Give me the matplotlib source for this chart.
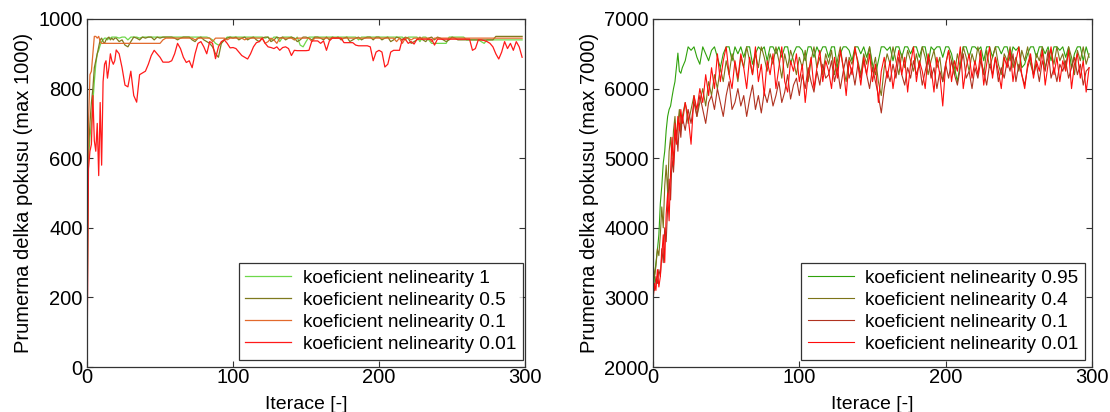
import numpy as np
import matplotlib
matplotlib.use("Agg")
import matplotlib.pyplot as plt

# iterations: every step for the start, then every second step
iters = list(range(0, 20)) + list(range(20, 300, 2))

# left panel (max 1000)
left_labels = ["koeficient nelinearity 1", "koeficient nelinearity 0.5",
               "koeficient nelinearity 0.1", "koeficient nelinearity 0.01"]
left_k1 = [130, 600, 660, 700, 760, 820, 870, 900, 910, 925, 935, 940, 945, 945, 940, 945, 945, 948, 948, 948,
           948, 945, 948, 948, 940, 948, 948, 948, 945, 948,
           948, 948, 948, 948, 948, 948, 948, 948, 948, 948,
           948, 948, 948, 948, 948, 948, 948, 948, 948, 948,
           948, 948, 945, 940, 930, 925, 930, 940, 948, 948,
           948, 948, 948, 948, 948, 948, 948, 948, 948, 948,
           948, 945, 948, 940, 948, 948, 935, 948, 948, 948,
           948, 940, 948, 925, 920, 935, 948, 948, 948, 948,
           948, 948, 948, 948, 948, 948, 948, 948, 948, 948,
           948, 948, 948, 940, 948, 948, 948, 948, 948, 948,
           948, 948, 948, 948, 948, 948, 948, 948, 948, 940,
           948, 948, 948, 948, 935, 948, 948, 940, 930, 930,
           930, 930, 930, 930, 948, 948, 948, 948, 948, 948,
           940, 940, 940, 940, 940, 935, 930, 940, 940, 940,
           940, 940, 940, 940, 940, 940, 940, 940, 940, 940]
left_k05 = [440, 620, 700, 760, 800, 860, 880, 900, 920, 940, 945, 935, 930, 940, 945, 948, 940, 945, 940, 945,
            945, 935, 940, 925, 920, 935, 948, 945, 940, 948,
            945, 948, 948, 940, 948, 945, 948, 948, 948, 948,
            945, 940, 945, 948, 948, 948, 940, 935, 945, 948,
            940, 935, 930, 920, 900, 890, 930, 940, 945, 948,
            945, 948, 940, 945, 948, 940, 945, 948, 940, 935,
            945, 948, 948, 935, 940, 948, 945, 948, 940, 945,
            948, 945, 935, 940, 948, 948, 945, 940, 948, 948,
            945, 940, 948, 940, 948, 945, 948, 940, 945, 948,
            935, 940, 945, 948, 940, 945, 948, 948, 940, 948,
            948, 940, 945, 948, 935, 940, 948, 945, 940, 948,
            945, 930, 935, 940, 948, 940, 935, 945, 948, 940,
            948, 945, 940, 935, 940, 948, 945, 940, 940, 940,
            940, 940, 940, 940, 940, 940, 940, 940, 940, 940,
            950, 950, 950, 950, 950, 950, 950, 950, 950, 950]
left_k01 = [280, 700, 840, 850, 900, 950, 950, 945, 950, 935, 930, 930, 930, 930, 930, 930, 930, 930, 930, 930,
            930, 930, 930, 930, 930, 930, 930, 930, 930, 930,
            930, 930, 930, 930, 930, 930, 940, 945, 945, 945,
            945, 945, 945, 945, 945, 945, 945, 940, 945, 945,
            945, 945, 945, 935, 945, 945, 945, 945, 940, 945,
            945, 945, 945, 945, 940, 945, 945, 945, 945, 945,
            945, 930, 935, 945, 940, 930, 945, 945, 945, 945,
            945, 940, 945, 945, 945, 945, 945, 935, 945, 945,
            945, 945, 945, 945, 945, 945, 945, 945, 945, 945,
            945, 945, 945, 945, 945, 945, 945, 945, 945, 945,
            945, 945, 945, 945, 945, 945, 935, 945, 930, 945,
            945, 940, 945, 945, 945, 945, 945, 945, 935, 945,
            945, 945, 945, 945, 945, 945, 945, 945, 945, 945,
            945, 945, 945, 945, 945, 945, 945, 945, 945, 945,
            945, 945, 945, 945, 945, 945, 945, 945, 945, 945]
left_k001 = [0, 570, 620, 640, 780, 650, 620, 700, 550, 760, 580, 820, 870, 880, 830, 860, 900, 880, 870, 880,
             911, 900, 860, 810, 805, 850, 780, 761, 840, 845,
             850, 870, 895, 910, 900, 890, 876, 876, 876, 880,
             900, 930, 915, 890, 875, 880, 860, 900, 930, 935,
             920, 900, 935, 930, 886, 920, 935, 940, 930, 917,
             918, 915, 905, 895, 890, 885, 900, 920, 932, 935,
             945, 930, 920, 918, 915, 920, 910, 918, 920, 915,
             895, 910, 909, 909, 909, 909, 910, 937, 937, 937,
             930, 937, 910, 937, 945, 945, 945, 945, 932, 932,
             932, 932, 925, 923, 923, 923, 923, 920, 880, 905,
             910, 905, 862, 870, 905, 910, 910, 910, 942, 942,
             930, 935, 928, 942, 942, 942, 942, 942, 942, 925,
             942, 942, 942, 942, 942, 942, 942, 942, 942, 942,
             942, 942, 910, 915, 940, 940, 938, 935, 930, 920,
             900, 885, 905, 935, 915, 930, 910, 935, 920, 890]

# right panel (max 7000)
right_labels = ["koeficient nelinearity 0.95", "koeficient nelinearity 0.4",
                "koeficient nelinearity 0.1", "koeficient nelinearity 0.01"]
right_k095 = [2950, 3300, 3500, 3680, 3900, 4350, 4600, 4930, 5100, 5400, 5600, 5700, 5750, 5880, 6000, 6100, 6300, 6510, 6250, 6220,
              6300, 6400, 6600, 6550, 6600, 6450, 6350, 6600, 6500, 6400,
              6550, 6600, 6450, 6300, 6500, 6600, 6600, 6400, 6600, 6500,
              6600, 6450, 6600, 6600, 6350, 6500, 6600, 6550, 6600, 6400,
              6600, 6600, 6500, 6600, 6450, 6600, 6600, 6350, 6500, 6600,
              6600, 6550, 6400, 6600, 6600, 6450, 6600, 6500, 6600, 6600,
              6450, 6600, 6600, 6300, 6500, 6600, 6600, 6550, 6400, 6600,
              6600, 6500, 6600, 6450, 6600, 6350, 6200, 6400, 6600, 6600,
              6550, 6600, 6400, 6600, 6600, 6450, 6600, 6600, 6500, 6600,
              6600, 6450, 6600, 6600, 6350, 6600, 6550, 6600, 6600, 6450,
              6600, 6600, 6500, 6300, 6100, 6350, 6600, 6600, 6450, 6600,
              6600, 6550, 6600, 6400, 6600, 6600, 6450, 6600, 6600, 6500,
              6600, 6600, 6400, 6600, 6550, 6600, 6300, 6350, 6500, 6600,
              6600, 6450, 6600, 6600, 6500, 6600, 6400, 6600, 6600, 6550,
              6600, 6450, 6600, 6300, 6500, 6600, 6600, 6400, 6600, 6450]
right_k04 = [3500, 3300, 3450, 3700, 3600, 3900, 4300, 4000, 4600, 4900, 4500, 5100, 5300, 5000, 5400, 5600, 5300, 5500, 5700, 5400,
             5600, 5800, 5500, 5700, 5900, 5600, 5800, 6000, 5750, 6100,
             5900, 6200, 6000, 6300, 6100, 6400, 6200, 6500, 6350, 6100,
             6450, 6300, 6600, 6400, 6200, 6500, 6300, 6600, 6450, 6250,
             6500, 6350, 6600, 6400, 6150, 6500, 6300, 6550, 6400, 6200,
             6450, 6300, 6550, 6100, 6400, 6600, 6300, 6450, 6200, 6500,
             6350, 6550, 6200, 6400, 6600, 6300, 6100, 6450, 6350, 6550,
             6400, 6200, 6500, 6350, 6600, 6250, 6450, 6100, 5900, 6300,
             6500, 6350, 6600, 6400, 6200, 6500, 6300, 6550, 6400, 6250,
             6500, 6300, 6600, 6450, 6200, 6400, 6550, 6300, 6450, 6100,
             6350, 6550, 6400, 6200, 6500, 6300, 6600, 6450, 6250, 6500,
             6350, 6600, 6400, 6200, 6550, 6300, 6450, 6600, 6350, 6200,
             6500, 6400, 6600, 6300, 6450, 6250, 6550, 6400, 6600, 6350,
             6200, 6500, 6400, 6600, 6300, 6450, 6550, 6350, 6600, 6400,
             6500, 6300, 6600, 6450, 6200, 6550, 6400, 6600, 6350, 6500]
right_k01 = [3200, 3100, 3300, 3200, 3400, 3300, 3700, 3500, 4000, 3800, 4300, 4700, 4400, 5000, 4800, 5200, 5400, 5100, 5500, 5300,
             5600, 5400, 5700, 5500, 5800, 5600, 5900, 5700, 5500, 5800,
             5900, 5700, 6000, 5800, 5600, 5900, 6100, 5700, 5800, 6000,
             5750, 5900, 5600, 5850, 6050, 5700, 5900, 5650, 5950, 5800,
             6000, 5750, 5900, 6100, 5800, 5950, 6200, 5850, 6050, 6150,
             5900, 6200, 6000, 6300, 6100, 5950, 6250, 6050, 6350, 6150,
             6200, 6400, 6100, 6300, 6000, 6250, 6450, 6150, 6300, 6050,
             6350, 6150, 6400, 6200, 6000, 6300, 6100, 5900, 5650, 6000,
             6250, 6100, 6350, 6150, 6450, 6200, 6050, 6300, 6150, 6400,
             6200, 6350, 6050, 6250, 6450, 6150, 6300, 6000, 6250, 6100,
             6350, 6150, 6400, 6200, 6050, 6300, 6500, 6150, 6250, 6000,
             6300, 6150, 6400, 6250, 6050, 6350, 6200, 6450, 6100, 6300,
             6150, 6400, 6250, 6500, 6100, 6350, 6200, 6050, 6300, 6450,
             6200, 6350, 6100, 6400, 6250, 6550, 6150, 6300, 6100, 6350,
             6250, 6400, 6150, 6300, 6450, 6200, 6350, 6050, 6250, 6300]
right_k001 = [2950, 3200, 3100, 3400, 3150, 3300, 3600, 3900, 3500, 4200, 4500, 4100, 4800, 5300, 4900, 5500, 5200, 5600, 5400, 5700,
              5500, 5800, 5600, 5200, 5900, 5700, 6000, 5800, 6200, 5900,
              6300, 6000, 6500, 6100, 6400, 6600, 6200, 6000, 6400, 6150,
              6500, 6300, 6000, 6450, 6200, 6600, 6100, 6350, 5900, 6400,
              6200, 6500, 6000, 6300, 6600, 6100, 5950, 6400, 6250, 6500,
              6100, 6350, 5800, 6200, 6450, 6000, 6300, 6550, 6100, 6400,
              6250, 6000, 6450, 6150, 6550, 6300, 5900, 6400, 6200, 6600,
              6350, 6050, 6450, 6200, 6500, 6100, 6350, 5800, 6250, 6450,
              6150, 6400, 6000, 6300, 6550, 6200, 6450, 5950, 6350, 6600,
              6100, 6400, 6250, 6000, 6500, 6300, 5950, 6450, 6200, 5750,
              6350, 6550, 6100, 6400, 6250, 6600, 6000, 6300, 6500, 6150,
              6400, 6200, 6550, 6050, 6350, 6600, 6150, 6450, 6250, 6000,
              6450, 6300, 6550, 6100, 6400, 6600, 6200, 6000, 6350, 6500,
              6150, 6400, 6250, 6550, 6050, 6350, 6600, 6200, 6450, 6100,
              6400, 6250, 6550, 6000, 6350, 6500, 6150, 6400, 5950, 6300]

left_colors = ["#6ed84a", "#7f7a1e", "#e2692c", "#ff1a1a"]
right_colors = ["#2fa20c", "#7d7418", "#b03220", "#ff0c0c"]

plt.rcParams["font.family"] = ["Liberation Sans", "DejaVu Sans"]

fig = plt.figure(figsize=(11.1, 4.12), dpi=100)
ax1 = fig.add_axes([0.0784, 0.1092, 0.3946, 0.8447])
ax2 = fig.add_axes([0.5883, 0.1092, 0.3955, 0.8447])

panels = [
    (ax1, [left_k1, left_k05, left_k01, left_k001], left_labels, left_colors, 0.9,
     (0, 1000), np.arange(0, 1001, 200), "Prumerna delka pokusu (max 1000)", 0.99),
    (ax2, [right_k095, right_k04, right_k01, right_k001], right_labels, right_colors, 0.8,
     (2000, 7000), np.arange(2000, 7001, 1000), "Prumerna delka pokusu (max 7000)", 0.98),
]

for ax, series, labels, colors, lw, ylim, yticks, ylabel, leg_x in panels:
    for vals, lab, col in zip(series, labels, colors):
        ax.plot(iters, vals, color=col, lw=lw, label=lab)
    ax.set_xlim(0, 300)
    ax.set_ylim(*ylim)
    ax.set_xticks([0, 100, 200, 300])
    ax.set_yticks(yticks)
    ax.tick_params(direction="in", top=True, right=True, labelsize=14.5,
                   length=4, width=0.8, colors="#333333", labelcolor="black")
    ax.tick_params(axis="x", pad=1)
    ax.tick_params(axis="y", pad=3)
    for sp in ax.spines.values():
        sp.set_color("#333333")
        sp.set_linewidth(0.9)
    ax.set_xlabel("Iterace [-]", fontsize=14, labelpad=6)
    ax.set_ylabel(ylabel, fontsize=14.5, labelpad=4)
    leg = ax.legend(loc="lower right", bbox_to_anchor=(leg_x, 0.027), fontsize=13.7,
                    frameon=True, fancybox=False, handlelength=2.4, borderpad=0.25,
                    labelspacing=0.25, handletextpad=0.6, borderaxespad=0)
    frame = leg.get_frame()
    frame.set_boxstyle("square", pad=0.1)
    frame.set_edgecolor("black")
    frame.set_linewidth(0.9)

fig.savefig("out.png", dpi=100)
